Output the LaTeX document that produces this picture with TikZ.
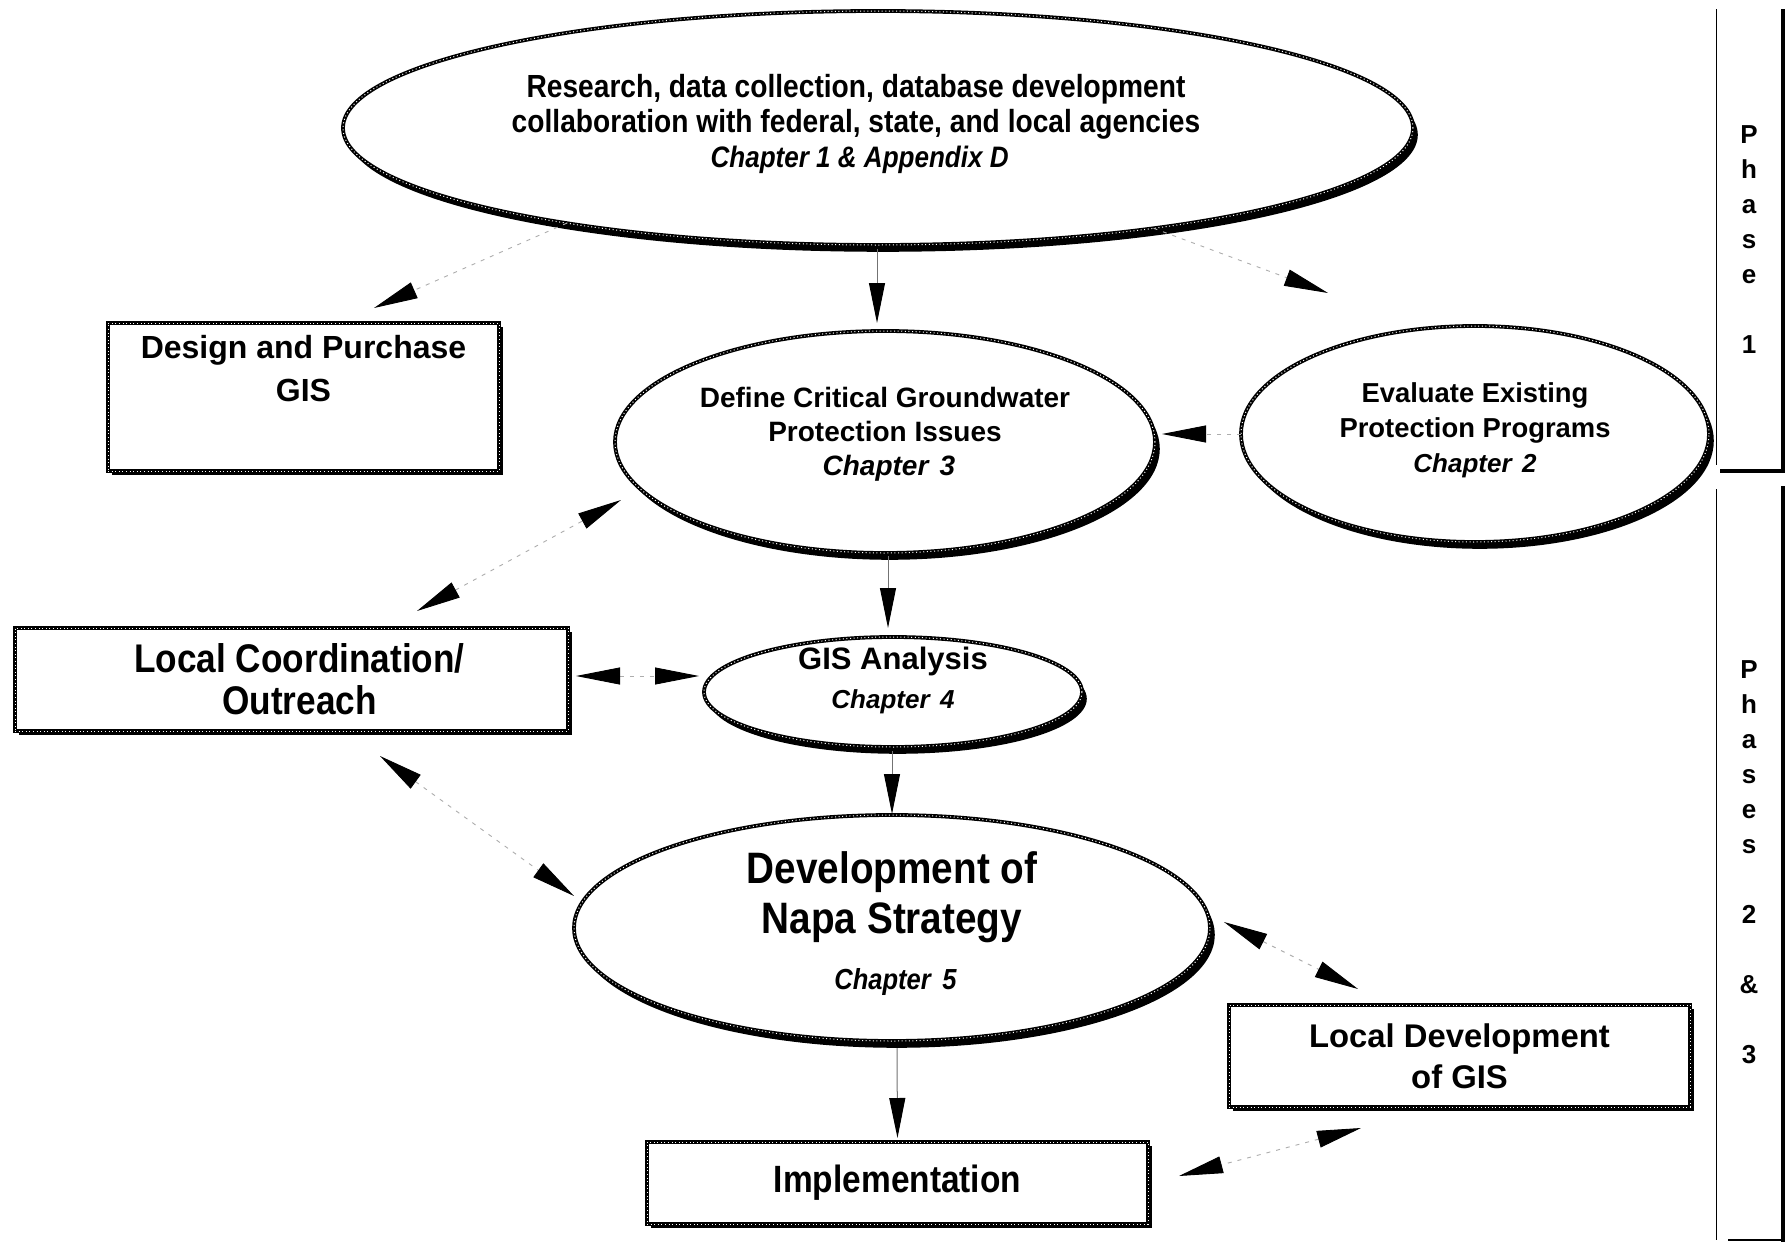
\documentclass[tikz,border=0pt]{standalone}
\usepackage{fontspec}
\setmainfont{Liberation Sans}
\newfontfamily\cond[FakeStretch=0.88]{Liberation Sans}
\usetikzlibrary{arrows.meta,shapes.geometric,shadows,calc}
\tikzset{
  chainline/.style={draw=black, line width=1.9pt,
    postaction={draw=white, line width=0.5pt, dash pattern=on 0.5pt off 1.3pt}},
  ovalnode/.style={ellipse, chainline, fill=white, inner sep=-20pt, outer sep=0pt, align=center,
    drop shadow={shadow xshift=2.4pt, shadow yshift=-3.4pt, fill=black, opacity=1}},
  boxnode/.style={rectangle, chainline, fill=white, inner sep=0pt, outer sep=0pt, align=center,
    drop shadow={shadow xshift=2pt, shadow yshift=-1.8pt, fill=black, opacity=1}},
  arr/.style={draw=black!32, line width=0.45pt, dash pattern=on 2pt off 3pt,
    -{Triangle[length=22pt,width=8.5pt,color=black]}},
  darr/.style={draw=black!32, line width=0.45pt, dash pattern=on 2pt off 3pt,
    {Triangle[length=22pt,width=8.5pt,color=black]}-{Triangle[length=22pt,width=8.5pt,color=black]}},
  arrv/.style={draw=black!55, line width=0.5pt,
    -{Triangle[length=20pt,width=8pt,color=black]}},
  phasetxt/.style={font={\bfseries\fontsize{13}{17.5}\selectfont}, align=center, inner sep=0pt}
}
\newcommand{\chapfont}[1][13]{\bfseries\itshape\fontsize{#1}{17}\selectfont}
\newcommand{\padr}[1]{\hbox to #1{}}
\begin{document}
\begin{tikzpicture}[x=0.5pt, y=-0.5pt]
\useasboundingbox (0,0) rectangle (1790,1242);
\fill[white] (0,0) rectangle (1790,1242);

% Nodes
\node[ovalnode, minimum width=535pt, minimum height=117pt, text depth=6.7pt,
  font={\cond\bfseries\fontsize{16}{17.5}\selectfont}] (top) at (878,128)
  {Research, data collection, database development\padr{22pt}\\collaboration with federal, state, and local agencies\padr{22pt}\\{\chapfont[14.8] Chapter 1 \& Appendix D\padr{22pt}}};

\node[boxnode, minimum width=195.5pt, minimum height=74pt, text depth=29pt,
  font={\bfseries\fontsize{16}{21.5}\selectfont}] (design) at (303.5,397)
  {Design and Purchase\\GIS};

\node[ovalnode, minimum width=270pt, minimum height=111pt, text depth=10.7pt,
  font={\bfseries\fontsize{14}{17}\selectfont}] (define) at (885,442)
  {Define Critical Groundwater\\Protection Issues\\{\chapfont[14] Chapter\hspace{0.4em}3}};

\node[ovalnode, minimum width=234pt, minimum height=108pt, text depth=6.7pt,
  font={\bfseries\fontsize{13.7}{17.5}\selectfont}] (eval) at (1475,434)
  {Evaluate Existing\\Protection Programs\\{\chapfont Chapter\hspace{0.4em}2}};

\node[boxnode, minimum width=276.5pt, minimum height=51.5pt,
  font={\cond\bfseries\fontsize{20}{21}\selectfont}] (localc) at (291.5,679.5)
  {\hbox to 8pt{}Local Coordination/\\\hbox to 8pt{}Outreach};

\node[ovalnode, minimum width=189pt, minimum height=55pt, text depth=14.7pt,
  font={\bfseries\fontsize{15.5}{19.5}\selectfont}] (gis) at (893,692)
  {GIS Analysis\\{\chapfont Chapter\hspace{0.4em}4}};

\node[ovalnode, minimum width=318pt, minimum height=113pt, text depth=7.7pt,
  font={\cond\bfseries\fontsize{22}{25}\selectfont}] (dev) at (892,928)
  {Development of\\Napa Strategy\\[3pt]{\chapfont[14.5] Chapter\hspace{0.4em}5}};

\node[boxnode, minimum width=230.5pt, minimum height=51pt,
  font={\bfseries\fontsize{16.4}{20.5}\selectfont}] (localdev) at (1459.5,1056)
  {Local Development\\of GIS};

\node[boxnode, minimum width=250.5pt, minimum height=41pt,
  font={\cond\bfseries\fontsize{19}{21}\selectfont}] (impl) at (897.5,1183)
  {Implementation};

% Phase labels
\node[phasetxt] (p1) at (1749,240) {P\\h\\a\\s\\e\\[17.5pt]1};
\node[phasetxt] (p23) at (1749,862) {P\\h\\a\\s\\e\\s\\[17.5pt]2\\[17.5pt]\&\\[17.5pt]3};

% Phase brackets
\draw[line width=0.5pt] (1716,9) -- (1716,465);
\draw[line width=2.2pt] (1783,9) -- (1783,471) -- (1720,471);
\draw[line width=0.5pt] (1716,489) -- (1716,1240);
\draw[line width=2.2pt] (1783,486) -- (1783,1242);
\draw[line width=1pt] (1728,1240) -- (1783,1240);

% Connectors
\draw[arr] (top.197) -- ($(design.north)+(70.5,-15)$);
\draw[arrv] ($(top.south)+(-1,4)$) -- ($(define.north)+(-8,-8)$);
\draw[arr] (top.-20) -- ($(eval.north)+(-147,-33)$);
\draw[arr] (eval.west) -- ($(define.east)+(7,-8)$);
\draw[darr] ($(localc.north)+(125.5,-17)$) -- ($(define.west)+(6,58)$);
\draw[arrv] ($(define.south)+(3,3)$) -- ($(gis.north)+(-5,-9)$);
\draw[darr] ($(localc.east)+(8,-3.5)$) -- ($(gis.west)+(-5,-16)$);
\draw[arrv] ($(gis.south)+(-1,4)$) -- ($(dev.north)+(0,-1)$);
\draw[darr] ($(localc.south)+(88.5,25)$) -- ($(dev.west)+(0,-32)$);
\draw[darr] ($(dev.east)+(14,-6)$) -- ($(localdev.north)+(-101.5,-16)$);
\draw[arrv] ($(dev.south)+(5,7)$) -- ($(impl.north)+(0,-4)$);
\draw[darr] ($(localdev.south)+(-98.5,21)$) -- ($(impl.east)+(31,-7)$);
\end{tikzpicture}
\end{document}
